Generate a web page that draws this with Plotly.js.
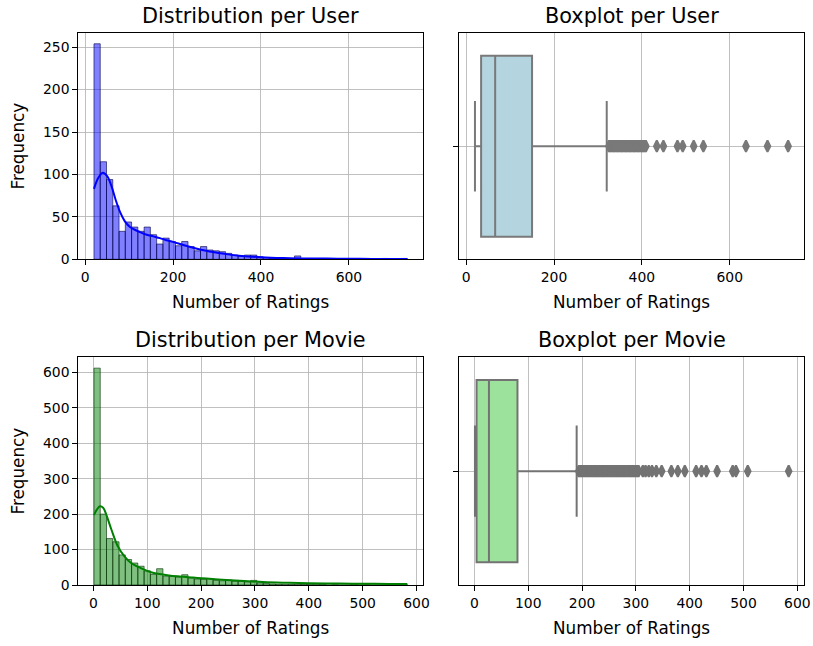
<!DOCTYPE html>
<html>
<head>
<meta charset="utf-8">
<script src="https://cdn.plot.ly/plotly-3.0.1.min.js"></script>
<style>html,body{margin:0;padding:0;background:#fff;}#chart{width:813px;height:646px;}</style>
</head>
<body>
<div id="chart"></div>
<script>
// ---------- DATA ----------
// Histogram per user: 50 bins starting at 20, width 14.26
const userBinStart = 20;
const userBinWidth = 14.26;
const userCounts = [254,115,94,63,33,44,38,33,38,29,18,25,21,16,21,15,10,15,11,10,9,7,5,4,5,5,3,2,1,1,1,0,4,1,1,0,1,0,0,0,0,0,0,1,0,0,1,0,0,1];
const userKdeX = [20,30,40,50,60,70,80,90,100,110,125,140,155,170,185,200,225,250,275,300,325,350,400,450,500,550,600,650,700,733];
const userKdeY = [83,96,102,98,86,69,55,45,39,35.5,32,29,27,25,22.5,20.5,16.5,13,10,7.8,5.8,4.3,2.4,1.4,1,0.8,0.6,0.5,0.4,0.4];

// Histogram per movie: 50 bins starting at 1, width 11.64
const movieBinStart = 1;
const movieBinWidth = 11.64;
const movieCounts = [612,200,131,122,85,72,62,53,40,30,46,25,24,22,29,20,17,16,18,13,12,14,11,10,9,13,6,4,3,2,1,2,1,2,1,1,2,0,1,0,0,3,0,1,0,0,0,0,0,1];
const movieKdeX = [1,6,12,18,24,33,45,58,70,89,107,123,140,160,185,210,247,280,308,340,364,400,456,500,550,583];
const movieKdeY = [197,212,222,218,198,158,110,80,62,47,36,31,27,24,21,18,14,11,9,7,6,5,4,3.5,3,3];

// Box stats per user
const userBox = {lower: 20, q1: 34, median: 66, q3: 150, upper: 320};
const userOutliers = [325,328,331,334,337,340,343,346,349,352,355,358,361,364,367,370,373,376,379,382,385,388,391,394,397,400,403,406,409,434,449,481,493,518,540,637,686,733];

// Box stats per movie
const movieBox = {lower: 1, q1: 4, median: 27, q3: 80, upper: 190};
const movieOutliers = [194,197,200,203,206,209,212,215,218,221,224,227,230,233,236,239,242,245,248,251,254,257,260,263,266,269,272,275,278,281,284,287,290,293,296,299,302,305,313,318,324,330,338,348,366,378,391,412,422,431,451,480,486,508,584];

// ---------- HELPERS ----------
function centers(start, width, counts) {
  return counts.map((_, i) => start + width * (i + 0.5));
}

const FONT = 'DejaVu Sans, Liberation Sans, sans-serif';
const GRID = '#b0b0b0';

const traces = [
  {
    type: 'bar', x: centers(userBinStart, userBinWidth, userCounts), y: userCounts,
    width: userBinWidth, xaxis: 'x', yaxis: 'y',
    marker: {color: 'rgba(0,0,255,0.5)', line: {color: 'rgba(0,0,70,0.6)', width: 1}},
    hoverinfo: 'skip'
  },
  {
    type: 'scatter', mode: 'lines', x: userKdeX, y: userKdeY, xaxis: 'x', yaxis: 'y',
    line: {color: '#0000ff', width: 2, shape: 'spline'}, hoverinfo: 'skip'
  },
  {
    type: 'box', orientation: 'h', y: [0],
    lowerfence: [userBox.lower], q1: [userBox.q1], median: [userBox.median], q3: [userBox.q3], upperfence: [userBox.upper],
    width: 0.8, whiskerwidth: 0.5, boxpoints: false,
    fillcolor: '#b4d4df', line: {color: '#797979', width: 2},
    xaxis: 'x2', yaxis: 'y2', hoverinfo: 'skip'
  },
  {
    type: 'scatter', mode: 'markers', x: userOutliers, y: userOutliers.map(() => 0),
    xaxis: 'x2', yaxis: 'y2',
    marker: {symbol: 'diamond-tall', size: 8, color: '#797979', line: {color: '#797979', width: 2}},
    hoverinfo: 'skip'
  },
  {
    type: 'bar', x: centers(movieBinStart, movieBinWidth, movieCounts), y: movieCounts,
    width: movieBinWidth, xaxis: 'x3', yaxis: 'y3',
    marker: {color: 'rgba(0,128,0,0.5)', line: {color: 'rgba(0,45,0,0.6)', width: 1}},
    hoverinfo: 'skip'
  },
  {
    type: 'scatter', mode: 'lines', x: movieKdeX, y: movieKdeY, xaxis: 'x3', yaxis: 'y3',
    line: {color: '#008000', width: 2, shape: 'spline'}, hoverinfo: 'skip'
  },
  {
    type: 'box', orientation: 'h', y: [0],
    lowerfence: [movieBox.lower], q1: [movieBox.q1], median: [movieBox.median], q3: [movieBox.q3], upperfence: [movieBox.upper],
    width: 0.8, whiskerwidth: 0.5, boxpoints: false,
    fillcolor: '#9ce29c', line: {color: '#737373', width: 2},
    xaxis: 'x4', yaxis: 'y4', hoverinfo: 'skip'
  },
  {
    type: 'scatter', mode: 'markers', x: movieOutliers, y: movieOutliers.map(() => 0),
    xaxis: 'x4', yaxis: 'y4',
    marker: {symbol: 'diamond-tall', size: 8, color: '#737373', line: {color: '#737373', width: 2}},
    hoverinfo: 'skip'
  }
];

function xax(domain, range, tickvals, anchor) {
  return {
    domain: domain, range: range, tickvals: tickvals, anchor: anchor,
    showgrid: true, gridcolor: GRID, gridwidth: 0.8, zeroline: false,
    showline: true, mirror: true, linecolor: '#000', linewidth: 1,
    ticks: 'outside', ticklen: 5, tickcolor: '#000', tickwidth: 1,
    tickfont: {family: FONT, size: 13.9, color: '#000'},
    title: {text: 'Number of Ratings', font: {family: FONT, size: 16.8, color: '#000'}, standoff: 12},
    automargin: false, fixedrange: true
  };
}
function yhist(domain, range, dtick, anchor) {
  return {
    domain: domain, range: range, dtick: dtick, tick0: 0, anchor: anchor,
    showgrid: true, gridcolor: GRID, gridwidth: 0.8, zeroline: false,
    showline: true, mirror: true, linecolor: '#000', linewidth: 1,
    ticks: 'outside', ticklen: 5, tickcolor: '#000', tickwidth: 1,
    tickfont: {family: FONT, size: 13.9, color: '#000'},
    title: {text: 'Frequency', font: {family: FONT, size: 16.8, color: '#000'}, standoff: 14},
    automargin: false, fixedrange: true
  };
}
function ybox(domain, anchor) {
  return {
    domain: domain, range: [0.5, -0.5], tickvals: [0], ticktext: [''], anchor: anchor,
    showgrid: true, gridcolor: GRID, gridwidth: 0.8, zeroline: false,
    showline: true, mirror: true, linecolor: '#000', linewidth: 1,
    ticks: 'outside', ticklen: 5, tickcolor: '#000', tickwidth: 1,
    automargin: false, fixedrange: true
  };
}

const W = 813, H = 646;
const L1 = [78.3 / W, 423 / W], L2 = [459.3 / W, 803.8 / W];
const T1 = [1 - 259.3 / H, 1 - 33 / H], T2 = [1 - 585 / H, 1 - 357.3 / H];

function title(text, xd, yd) {
  return {
    text: text, xref: 'paper', yref: 'paper', x: (xd[0] + xd[1]) / 2, y: yd[1],
    xanchor: 'center', yanchor: 'bottom', yshift: 3, showarrow: false,
    font: {family: FONT, size: 20.8, color: '#000'}
  };
}

const layout = {
  width: W, height: H,
  margin: {l: 0, r: 0, t: 0, b: 0},
  paper_bgcolor: '#fff', plot_bgcolor: '#fff',
  showlegend: false, bargap: 0,
  xaxis: xax(L1, [-15.65, 768.65], [0, 200, 400, 600], 'y'),
  yaxis: yhist(T1, [0, 266.7], 50, 'x'),
  xaxis2: xax(L2, [-15.65, 768.65], [0, 200, 400, 600], 'y2'),
  yaxis2: ybox(T1, 'x2'),
  xaxis3: xax(L1, [-28.1, 612.1], [0, 100, 200, 300, 400, 500, 600], 'y3'),
  yaxis3: yhist(T2, [0, 642.6], 100, 'x3'),
  xaxis4: xax(L2, [-28.1, 612.1], [0, 100, 200, 300, 400, 500, 600], 'y4'),
  yaxis4: ybox(T2, 'x4'),
  annotations: [
    title('Distribution per User', L1, T1),
    title('Boxplot per User', L2, T1),
    title('Distribution per Movie', L1, T2),
    title('Boxplot per Movie', L2, T2)
  ]
};

Plotly.newPlot('chart', traces, layout, {displayModeBar: false, staticPlot: true});
</script>
</body>
</html>
